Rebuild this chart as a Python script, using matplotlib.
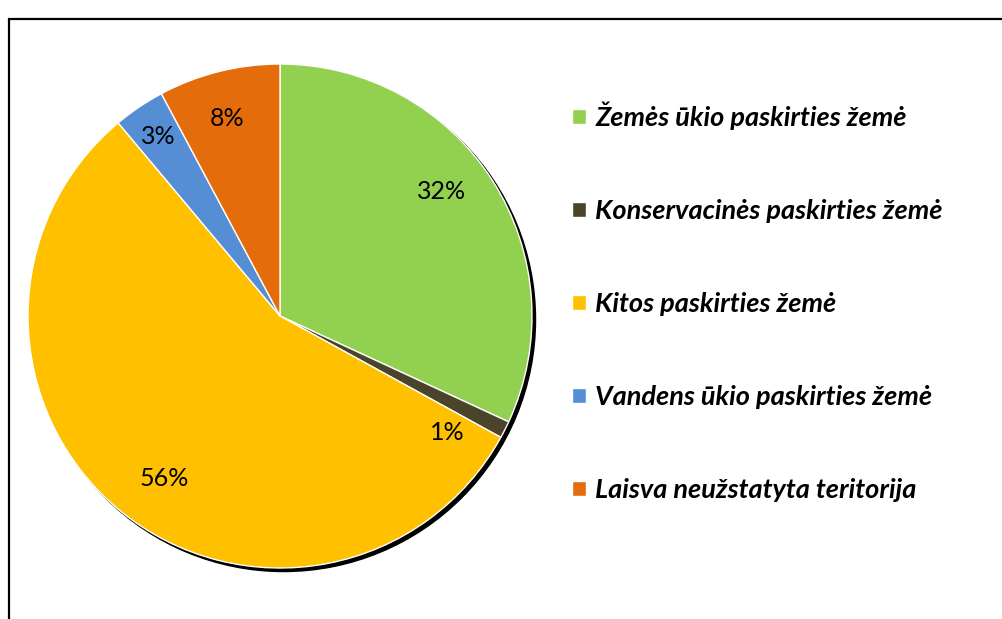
import numpy as np
import matplotlib.pyplot as plt
from matplotlib.patches import Circle, Rectangle

labels = ["Žemės ūkio paskirties žemė",
          "Konservacinės paskirties žemė",
          "Kitos paskirties žemė",
          "Vandens ūkio paskirties žemė",
          "Laisva neužstatyta teritorija"]
values = [31.9, 1.1, 55.9, 3.3, 7.8]
pct_text = ["32%", "1%", "56%", "3%", "8%"]
colors = ["#92D050", "#4A442A", "#FFC000", "#558ED5", "#E46C0A"]

fig = plt.figure(figsize=(10.03, 6.19), dpi=100)
ax = fig.add_axes([28/1003, (619-316-252)/619, 504/1003, 504/619])
ax.axis("off")

# black shadow behind the pie
ax.add_patch(Circle((0.014, -0.014), 1.0, color="black", zorder=0, clip_on=False))

wedges, _ = ax.pie(values, colors=colors, startangle=90, counterclock=False,
                   radius=1.0, wedgeprops=dict(edgecolor="white", linewidth=1))
ax.set_xlim(-1.0, 1.0)
ax.set_ylim(-1.0, 1.0)
ax.set_aspect("equal")

# label angle tweak (degrees) and distance per slice
angle_shift = [5, -8, 4, 0, 1]
dist = [0.81, 0.81, 0.79, 0.86, 0.81]
for w, t, da, d in zip(wedges, pct_text, angle_shift, dist):
    mid = np.deg2rad((w.theta1 + w.theta2) / 2 + da)
    ax.text(d*np.cos(mid), d*np.sin(mid), t, ha="center", va="center",
            fontsize=18, family="Lato")

fig.legend(wedges, labels, loc="upper left", bbox_to_anchor=(548/1003, 1-77/619),
           frameon=False, prop=dict(family="Lato", weight="bold", style="italic", size=19.5),
           labelspacing=2.55, handlelength=0.5, handleheight=0.5, handletextpad=0.35)

# outer frame (runs past right and bottom edges)
fig.patches.append(Rectangle((9/1003, -0.1), 1.2, 1.1 - 19/619, fill=False,
                             edgecolor="black", linewidth=1.6, transform=fig.transFigure))

fig.savefig("out.png", dpi=100)
